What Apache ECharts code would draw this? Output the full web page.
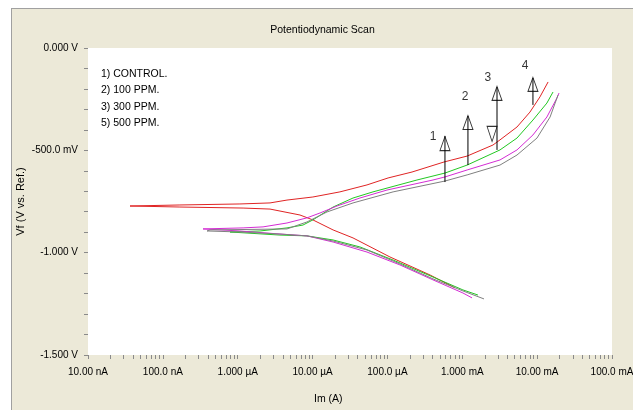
<!DOCTYPE html>
<html><head><meta charset="utf-8">
<script src="https://cdn.jsdelivr.net/npm/echarts@6/dist/echarts.min.js"></script>
<style>
html,body{margin:0;padding:0;background:#fff;width:633px;height:410px;overflow:hidden}
#c{position:absolute;left:11px;top:8px;width:621px;height:401px;border-left:1px solid #a0a0a0;border-top:1px solid #a0a0a0;background:#ECE9D8}
</style></head><body><div id="c"></div>
<script>
// ---- data: [current (A), potential (V)] in scan order ----
const seriesNames = ['1) CONTROL.', '2) 100 PPM.', '3) 300 PPM.', '5) 500 PPM.'];
const seriesColors = ['#e02424', '#22c822', '#d42cd4', '#808080'];

const control = [
  [7.98e-4,-1.172],[3.71e-4,-1.109],[1.08e-4,-1.021],[3.47e-5,-0.928],[1.88e-5,-0.889],
  [1.01e-5,-0.840],[6.79e-6,-0.816],[2.70e-6,-0.787],[1.18e-6,-0.782],[1.69e-7,-0.777],
  [3.64e-8,-0.772],[1.69e-7,-0.767],[1.07e-6,-0.762],[2.70e-6,-0.757],[4.55e-6,-0.743],
  [1.01e-5,-0.728],[2.32e-5,-0.703],[5.33e-5,-0.669],[1.02e-4,-0.635],[2.13e-4,-0.606],
  [5.70e-4,-0.557],[1.16e-3,-0.528],[2.57e-3,-0.474],[3.19e-3,-0.449],[5.38e-3,-0.386],
  [8.02e-3,-0.313],[1.09e-2,-0.239],[1.40e-2,-0.166]
];
const ppm100 = [
  [1.62e-3,-1.207],[1.02e-3,-1.182],[4.06e-4,-1.119],[1.19e-4,-1.036],[4.29e-5,-0.972],
  [1.88e-5,-0.938],[8.41e-6,-0.918],[3.67e-6,-0.914],[7.89e-7,-0.899],[1.99e-6,-0.894],
  [4.55e-6,-0.879],[7.45e-6,-0.865],[1.01e-5,-0.840],[1.88e-5,-0.777],[3.47e-5,-0.733],
  [6.41e-5,-0.703],[2.48e-4,-0.645],[5.87e-4,-0.611],[1.16e-3,-0.572],[3.19e-3,-0.498],
  [5.38e-3,-0.440],[8.79e-3,-0.352],[1.35e-2,-0.269],[1.63e-2,-0.215]
];
const ppm300 = [
  [1.35e-3,-1.221],[1.02e-3,-1.197],[4.06e-4,-1.133],[1.47e-4,-1.060],[5.33e-5,-0.997],
  [1.88e-5,-0.948],[8.41e-6,-0.918],[3.67e-6,-0.909],[1.07e-6,-0.894],[3.44e-7,-0.884],
  [1.18e-6,-0.879],[2.18e-6,-0.874],[4.55e-6,-0.855],[8.41e-6,-0.830],[1.26e-5,-0.806],
  [2.12e-5,-0.772],[4.29e-5,-0.733],[9.86e-5,-0.694],[4.06e-4,-0.645],[5.87e-4,-0.630],
  [1.16e-3,-0.596],[3.19e-3,-0.547],[5.38e-3,-0.498],[8.79e-3,-0.425],[1.35e-2,-0.337],
  [1.84e-2,-0.244],[1.96e-2,-0.220]
];
const ppm500 = [
  [1.95e-3,-1.226],[1.02e-3,-1.187],[4.06e-4,-1.128],[1.47e-4,-1.055],[5.33e-5,-0.987],
  [1.88e-5,-0.943],[8.41e-6,-0.918],[3.67e-6,-0.909],[1.07e-6,-0.899],[3.89e-7,-0.894],
  [4.27e-7,-0.889],[4.55e-6,-0.884],[8.41e-6,-0.850],[1.56e-5,-0.801],[3.47e-5,-0.757],
  [1.19e-4,-0.703],[5.87e-4,-0.650],[1.16e-3,-0.620],[3.19e-3,-0.572],[5.38e-3,-0.523],
  [9.95e-3,-0.440],[1.49e-2,-0.337],[1.90e-2,-0.230]
];

// Tafel markers (numbered arrows)
const arrowCurrent = [5.87e-4, 1.19e-3, 2.91e-3, 8.79e-3];
const arrowBottom  = [-0.655, -0.572, -0.498, -0.278];
const arrowApex    = [-0.430, -0.332, -0.191, -0.147];
const arrowHead    = [-0.467, -0.364, -0.222, -0.178];
const downMarker   = [[2.50e-3, -0.420]];
const arrowLabels  = ['1', '2', '3', '4'];
const arrowLabelPos = [[4.06e-4,-0.435],[1.09e-3,-0.239],[2.20e-3,-0.147],[6.90e-3,-0.088]];

// axis ticks / labels
const xTickValues = [1e-8,1e-7,1e-6,1e-5,1e-4,1e-3,1e-2,1e-1];
const xTickLabels = ['10.00 nA','100.0 nA','1.000 µA','10.00 µA','100.0 µA','1.000 mA','10.00 mA','100.0 mA'];
const xMinorMult = [1,2,3,4,5,6,7,8,9];
const yTickValues = [0, -0.5, -1.0, -1.5];
const yTickLabels = ['0.000 V','-500.0 mV','-1.000 V','-1.500 V'];
const yMinorTicks = [0,-0.1,-0.2,-0.3,-0.4,-0.5,-0.6,-0.7,-0.8,-0.9,-1.0,-1.1,-1.2,-1.3,-1.4,-1.5];

const xMinorTicks = [];
xTickValues.forEach((d, i) => { if (i < xTickValues.length - 1) xMinorMult.forEach(m => xMinorTicks.push(d * m)); else xMinorTicks.push(d); });

const FONT = "'Liberation Sans Narrow','Arial Narrow','Liberation Sans',Arial,sans-serif";
const FONT2 = "'Liberation Sans',Arial,sans-serif";

function xFmt(v) {
  let best = 0, bd = 1e9;
  xTickValues.forEach((t, i) => { const d = Math.abs(Math.log10(v) - Math.log10(t)); if (d < bd) { bd = d; best = i; } });
  return xTickLabels[best];
}
function yFmt(v) {
  let best = -1;
  yTickValues.forEach((t, i) => { if (Math.abs(v - t) < 1e-6) best = i; });
  return best >= 0 ? yTickLabels[best] : '';
}

const curveData = [control, ppm100, ppm300, ppm500];
const series = curveData.map((d, i) => ({
  name: seriesNames[i], type: 'line', data: d, showSymbol: false, symbol: 'none',
  lineStyle: { width: 1, color: seriesColors[i] }, itemStyle: { color: seriesColors[i] },
  silent: true, z: 3
}));
arrowCurrent.forEach((c, i) => {
  series.push({
    type: 'line', data: [[c, arrowBottom[i]], [c, arrowApex[i]]], symbol: 'none',
    lineStyle: { width: 1, color: '#000' }, silent: true, z: 4
  });
});
series.push({
  type: 'scatter', data: arrowCurrent.map((c, i) => [c, arrowHead[i]]),
  symbol: 'triangle', symbolSize: [10, 14],
  itemStyle: { color: 'rgba(0,0,0,0)', borderColor: '#000', borderWidth: 1 }, silent: true, z: 5
});
series.push({
  type: 'scatter', data: downMarker, symbol: 'triangle', symbolSize: [10, 15], symbolRotate: 180,
  itemStyle: { color: 'rgba(0,0,0,0)', borderColor: '#000', borderWidth: 1 }, silent: true, z: 5
});
series.push({
  type: 'scatter', data: arrowLabelPos.map((p, i) => ({ value: p, name: arrowLabels[i] })),
  symbolSize: 1, itemStyle: { color: 'rgba(0,0,0,0)' },
  label: { show: true, position: 'inside', formatter: '{b}', color: '#000', fontSize: 12, fontFamily: FONT2 },
  silent: true, z: 6
});

const chart = echarts.init(document.getElementById('c'));
chart.setOption({
  animation: false,
  backgroundColor: 'transparent',
  title: [
    { text: 'Potentiodynamic Scan', left: 'center', top: 11,
      textStyle: { fontFamily: FONT, fontSize: 10.5, fontWeight: 'normal', color: '#000' } },
    { text: 'Im (A)', left: 297, top: 380,
      textStyle: { fontFamily: FONT, fontSize: 10.5, fontWeight: 'normal', color: '#000' } }
  ],
  legend: {
    orient: 'vertical', left: 79, top: 53, itemGap: 4, itemWidth: 0, itemHeight: 14,
    icon: 'none', selectedMode: false, data: seriesNames,
    textStyle: { fontFamily: FONT, fontSize: 10.5, color: '#000' }
  },
  grid: { left: 76, top: 39, width: 524, height: 307, show: true, backgroundColor: '#fff', borderWidth: 0,
    containLabel: false, outerBoundsMode: 'none' },
  xAxis: {
    type: 'log', logBase: 10, min: 1e-8, max: 1e-1,
    axisLine: { show: false, onZero: false },
    axisTick: { show: true, customValues: xMinorTicks, length: 4, lineStyle: { color: '#8a8a8a' } },
    axisLabel: { customValues: xTickValues, formatter: xFmt, margin: 12,
      fontFamily: FONT, fontSize: 10, color: '#000' },
    splitLine: { show: false }
  },
  yAxis: {
    type: 'value', min: -1.5, max: 0, interval: 0.1,
    name: 'Vf (V vs. Ref.)', nameLocation: 'middle', nameGap: 62, nameMoveOverlap: false,
    nameTextStyle: { fontFamily: FONT2, fontSize: 11, color: '#000' },
    axisLine: { show: false, onZero: false },
    axisTick: { show: true, customValues: yMinorTicks, length: 4, lineStyle: { color: '#8a8a8a' } },
    axisLabel: { customValues: yTickValues, formatter: yFmt, margin: 10,
      fontFamily: FONT, fontSize: 10, color: '#000' },
    splitLine: { show: false }
  },
  series: series
});
</script></body></html>
